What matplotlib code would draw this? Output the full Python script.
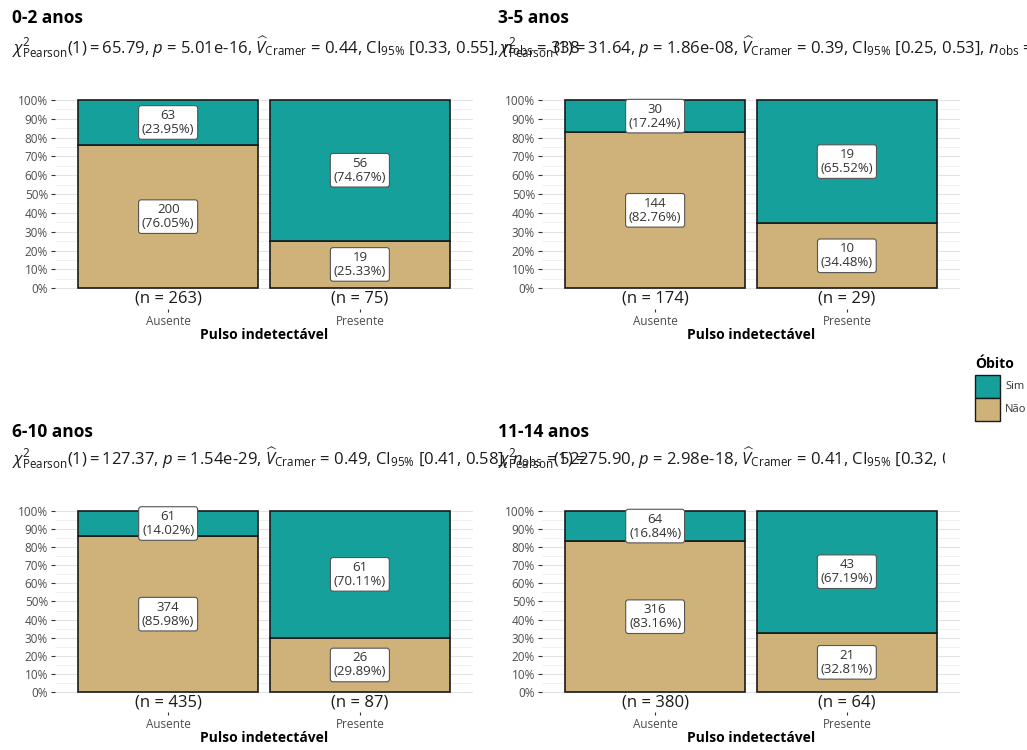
import matplotlib.pyplot as plt
from matplotlib.patches import Rectangle
import numpy as np

plt.rcParams['font.family'] = ['Open Sans', 'DejaVu Sans']
plt.rcParams['mathtext.fontset'] = 'custom'
plt.rcParams['mathtext.rm'] = 'Open Sans'
plt.rcParams['mathtext.it'] = 'Open Sans:italic'
plt.rcParams['mathtext.bf'] = 'Open Sans:bold'

# data
titles = ['0-2 anos', '3-5 anos', '6-10 anos', '11-14 anos']
categories = ['Ausente', 'Presente']
nao = [[200, 19], [144, 10], [374, 26], [316, 21]]
sim = [[63, 56], [30, 19], [61, 61], [64, 43]]
chi = ['65.79', '31.64', '127.37', '75.90']
pvals = ['5.01e-16', '1.86e-08', '1.54e-29', '2.98e-18']
cramer = ['0.44', '0.39', '0.49', '0.41']
ci = ['[0.33, 0.55]', '[0.25, 0.53]', '[0.41, 0.58]', '[0.32, 0.50]']
nobs = [338, 203, 522, 444]

teal = '#16a09b'
tan = '#cfb27a'

W, H = 1027, 750
fig = plt.figure(figsize=(W / 100, H / 100), dpi=100)

def px_box(x0, x1, y_top, y_bot):
    return [x0 / W, 1 - y_bot / H, (x1 - x0) / W, (y_bot - y_top) / H]

# axes boxes (pixels) and text anchors
panels = [
    dict(box=px_box(55, 473, 98, 309), tx=12, ty=18, sy=47),
    dict(box=px_box(542, 960, 98, 309), tx=498, ty=18, sy=47),
    dict(box=px_box(55, 473, 509, 712), tx=12, ty=432, sy=458),
    dict(box=px_box(542, 960, 509, 712), tx=498, ty=432, sy=458),
]

for i, p in enumerate(panels):
    ax = fig.add_axes(p['box'])
    x = np.arange(len(categories))
    n = np.array(nao[i]) + np.array(sim[i])
    pn = np.array(nao[i]) / n
    ps = np.array(sim[i]) / n
    ax.bar(x, pn, width=0.94, color=tan, edgecolor='#1a1a1a', linewidth=1.2, zorder=2)
    ax.bar(x, ps, bottom=pn, width=0.94, color=teal, edgecolor='#1a1a1a', linewidth=1.2, zorder=2)
    for j in range(len(categories)):
        for cnt, frac, base in [(nao[i][j], pn[j], 0), (sim[i][j], ps[j], pn[j])]:
            ax.text(x[j], base + frac / 2, f'{cnt}\n({frac * 100:.2f}%)', ha='center', va='center',
                    fontsize=9.5, color='#333333', linespacing=1.1, zorder=4,
                    bbox=dict(boxstyle='round,pad=0.25,rounding_size=0.2', fc='white', ec='#555555', lw=0.8))
        ax.text(x[j], -0.055, f'(n = {n[j]})', ha='center', va='center', fontsize=12, color='#1a1a1a')
    ax.set_xlim(-0.59, 1.59)
    ax.set_ylim(-0.11, 1.01)
    ax.set_yticks(np.arange(0, 1.01, 0.1))
    ax.set_yticklabels([f'{int(round(v * 100))}%' for v in np.arange(0, 1.01, 0.1)])
    ax.set_yticks(np.arange(0.05, 1.0, 0.1), minor=True)
    ax.tick_params(axis='y', which='major', length=3, color='#333333', labelsize=8.5,
                   labelcolor='#4d4d4d', pad=2)
    ax.tick_params(axis='y', which='minor', length=0)
    ax.set_xticks(x)
    ax.set_xticklabels(categories)
    ax.tick_params(axis='x', length=2.5, color='#333333', labelsize=8.5, labelcolor='#4d4d4d', pad=2)
    ax.grid(axis='y', which='major', color='#e3e3e3', linewidth=0.8, zorder=0)
    ax.grid(axis='y', which='minor', color='#efefef', linewidth=0.6, zorder=0)
    ax.set_axisbelow(True)
    for s in ax.spines.values():
        s.set_visible(False)
    ax.set_xlabel('Pulso indetectável', fontsize=10, fontweight='bold', labelpad=0)

    fig.text(p['tx'] / W, 1 - p['ty'] / H, titles[i], fontsize=12.5, fontweight='bold',
             ha='left', va='center')
    sub = (r'$\chi^2_{\mathrm{Pearson}}(1) = ' + chi[i] + r'$, $p$ = ' + pvals[i] +
           r', $\widehat{V}_{\mathrm{Cramer}}$ = ' + cramer[i] + r', CI$_{95\%}$ ' + ci[i] +
           r', $n_{\mathrm{obs}}$ = ' + str(nobs[i]))
    fig.text(p['tx'] / W, 1 - p['sy'] / H, sub, fontsize=12, ha='left', va='center', color='#1a1a1a')

# legend (white background over the overflowing subtitle)
fig.add_artist(Rectangle((945 / W, 1 - 470 / H), 82 / W, 120 / H, transform=fig.transFigure,
                         fc='white', ec='none', zorder=5))
fig.text(975 / W, 1 - 364 / H, 'Óbito', fontsize=10, fontweight='bold', ha='left', va='center', zorder=6)
for k, (lab, col) in enumerate([('Sim', teal), ('Não', tan)]):
    y0 = 375 + k * 23
    fig.add_artist(Rectangle((975 / W, 1 - (y0 + 23) / H), 25 / W, 23 / H, transform=fig.transFigure,
                             fc=col, ec='#1a1a1a', lw=1.0, zorder=6))
    fig.text(1005 / W, 1 - (y0 + 11.5) / H, lab, fontsize=8, color='#333333', ha='left', va='center', zorder=7)

plt.savefig('out.png', dpi=100)
plt.close()
